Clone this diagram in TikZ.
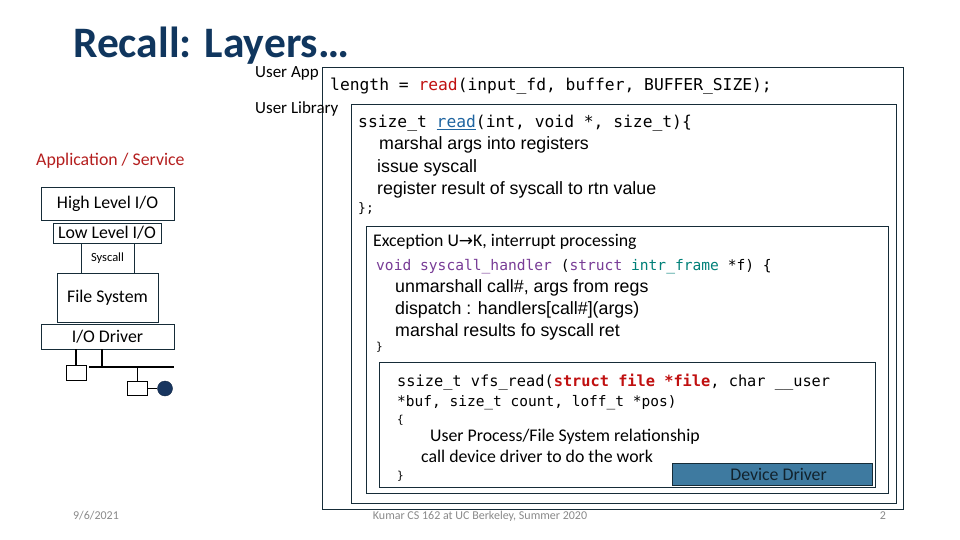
\documentclass[tikz,border=0pt]{standalone}
\usepackage{fontspec}
\setmainfont{Carlito}
\newfontfamily\cmono{DejaVu Sans Mono}
\newfontfamily\arial{Liberation Sans}
\newfontfamily\symf{DejaVu Sans}
\definecolor{titlec}{RGB}{16,54,94}
\definecolor{boxc}{RGB}{22,44,56}
\definecolor{redc}{RGB}{192,16,16}
\definecolor{appred}{RGB}{180,30,30}
\definecolor{purc}{RGB}{120,60,150}
\definecolor{tealc}{RGB}{0,128,120}
\definecolor{bluec}{RGB}{30,100,160}
\definecolor{ddfill}{RGB}{62,122,160}
\definecolor{navyc}{RGB}{24,54,96}
\definecolor{footc}{RGB}{137,137,137}
\tikzset{
  bx/.style={draw=boxc, line width=1.1pt, inner sep=0pt, anchor=north west},
  lbox/.style={draw=boxc, line width=0.9pt, inner sep=0pt},
  txt/.style={inner sep=0pt, anchor=base west},
  cal/.style={font=\fontsize{17.8}{21}\selectfont},
  calS/.style={font=\fontsize{17}{20}\selectfont},
  monoL/.style={font=\cmono\fontsize{16.3}{19}\selectfont},
  monoS/.style={font=\cmono\fontsize{14.6}{17}\selectfont},
  ari/.style={font=\arial\fontsize{17.8}{21}\selectfont},
  foot/.style={inner sep=0pt, anchor=base, text=footc, font=\fontsize{12}{14}\selectfont},
  busline/.style={draw=black, line width=1.6pt},
  devbox/.style={draw=black, line width=0.9pt, fill=white, inner sep=0pt, minimum width=20pt, minimum height=14.5pt}
}
\begin{document}
\begin{tikzpicture}[x=1pt,y=-1pt]
\useasboundingbox (0,0) rectangle (960,540);
% title
\node[txt, text=titlec, font=\fontsize{43.5}{50}\selectfont\bfseries] (title) at (73,58) {Recall: Layers…};
% nested boxes
\node[bx, minimum width=581pt, minimum height=442pt] (userapp) at (322,67) {};
\node[bx, minimum width=545pt, minimum height=399pt] (userlib) at (351,104) {};
\node[bx, minimum width=522pt, minimum height=267pt] (except) at (366,226) {};
\node[bx, minimum width=496pt, minimum height=125pt] (vfs) at (379,362) {};
\node[bx, fill=ddfill, minimum width=200pt, minimum height=22pt] (ddbox) at (672,463) {};
\node[inner sep=0pt, text=boxc!80!black, cal] (ddtext) at ([xshift=6pt]ddbox.center) {Device Driver};
% side labels
\node[txt, calS] (uapp) at (255,78) {User App};
\node[txt, calS] (ulib) at (255,114) {User Library};
% user app code
\node[txt, monoL] (lenline) at (330,91) {length = \textcolor{redc}{read}(input\_fd, buffer, BUFFER\_SIZE);};
% user library code
\node[txt, monoL] (readdef) at (358,128) {ssize\_t \textcolor{bluec}{\underline{read}}(int, void *, size\_t)\{};
\node[txt, ari] (l1) at (379,150) {marshal args into registers};
\node[txt, ari] (l2) at (377,172) {issue syscall};
\node[txt, ari] (l3) at (377,194) {register result of syscall to rtn value};
\node[txt, font=\cmono\fontsize{13}{15}\selectfont] (l4) at (358,212) {\};};
% exception box
\node[txt, cal] (exc) at (373,246) {Exception U{\symf\fontsize{17}{18}\selectfont →}K, interrupt processing};
\node[txt, monoS] (sh) at (376,270) {\textcolor{purc}{void syscall\_handler} (\textcolor{purc}{struct} \textcolor{tealc}{intr\_frame} *f) \{};
\node[txt, ari] (e1) at (395,292) {unmarshall call\#, args from regs};
\node[txt, ari] (e2) at (395,314) {dispatch : handlers[call\#](args)};
\node[txt, ari] (e3) at (395,336) {marshal results fo syscall ret};
\node[txt, font=\cmono\fontsize{11}{13}\selectfont] (e4) at (376,350) {\}};
% vfs box
\node[txt, font=\cmono\fontsize{15.3}{18}\selectfont] (v1) at (397,386) {ssize\_t vfs\_read(\textcolor{redc}{\bfseries struct file *file}, char \_\_user};
\node[txt, font=\cmono\fontsize{14.5}{17}\selectfont] (v2) at (397,406) {*buf, size\_t count, loff\_t *pos)};
\node[txt, font=\cmono\fontsize{11}{13}\selectfont] (v3) at (397,423) {\{};
\node[txt, cal] (v4) at (430,441) {User Process/File System relationship};
\node[txt, cal] (v5) at (421,462) {call device driver to do the work};
\node[txt, font=\cmono\fontsize{11}{13}\selectfont] (v6) at (397,479) {\}};
% left stack
\node[txt, cal, text=appred] (appsvc) at (36,166) {Application / Service};
\node[lbox, minimum width=133pt, minimum height=33pt, cal] (hlio) at (107.5,203.5) {High Level I/O};
\node[lbox, minimum width=108pt, minimum height=20pt, cal] (llio) at (107,233) {Low Level I/O};
\node[lbox, minimum width=53pt, minimum height=30pt, font=\fontsize{12.5}{14}\selectfont] (sysc) at (107.5,258) {Syscall};
\node[lbox, minimum width=101pt, minimum height=49pt, cal] (fs) at (107.5,297.5) {File System};
\node[lbox, minimum width=133pt, minimum height=25pt, cal] (drv) at (107.5,336.5) {I/O Driver};
% bus
\node[devbox] (dev1) at (76,373) {};
\node[devbox] (dev2) at (137.5,388.5) {};
\node[circle, fill=navyc, draw=navyc!70!black, inner sep=0pt, minimum size=15pt] (disk) at (165,388.5) {};
\coordinate (busL) at (89,367);
\coordinate (busR) at (174,367);
\draw[busline] (busL) -- (busR);
\draw[busline] (dev1.north) -- (dev1.north |- drv.south);
\draw[busline] (busL -| 102,0) -- (102,0 |- drv.south);
\draw[busline] (dev2.north |- busL) -- (dev2.north);
\draw[busline] (dev2.east) -- (disk.west);
% footer
\node[foot] (date) at (96,519) {9/6/2021};
\node[foot] (course) at (480,519) {Kumar CS 162 at UC Berkeley, Summer 2020};
\node[foot] (pnum) at (883,519) {2};
\end{tikzpicture}
\end{document}
